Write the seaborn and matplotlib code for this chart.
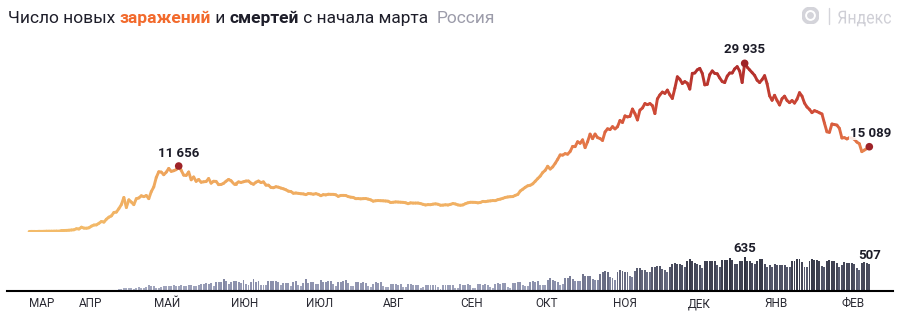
import numpy as np
import pandas as pd
import matplotlib
matplotlib.use("Agg")
import matplotlib.pyplot as plt
import seaborn as sns
from matplotlib.collections import LineCollection
from matplotlib.colors import LinearSegmentedColormap, Normalize
from matplotlib.patches import Circle, PathPatch
from matplotlib.textpath import TextPath
from matplotlib.font_manager import FontProperties
from matplotlib.transforms import Affine2D

# ---------------- data ----------------
start_date = "2020-03-12"

cases_mar = [6, 17, 14, 4, 30, 21, 33, 52, 54, 53, 61, 71, 57, 163, 182, 196, 228, 270, 302, 501]
cases_apr = [440, 771, 601, 582, 658, 954, 1154, 1175, 1459, 1786, 1667, 2186, 2558, 2774, 3388,
             3448, 4070, 4785, 6060, 4268, 5642, 5236, 4774, 5849, 5966, 6361, 6198, 6411, 5841, 7099]
cases_may = [7933, 9623, 10633, 10581, 10102, 10559, 11231, 10699, 10817, 11012, 11656, 10899, 10028,
             9974, 10598, 9200, 9709, 8926, 9263, 8764, 8849, 8894, 9434, 8599, 8946, 8915, 8338,
             8371, 8572, 8952, 9268]
cases_jun = [9035, 8536, 8536, 8831, 8726, 8855, 8984, 8985, 8595, 8404, 8779, 8987, 8706, 8835, 8246,
             8248, 7843, 7790, 7972, 7889, 7728, 7600, 7425, 7176, 7113, 6800, 6852, 6791, 6719, 6693]
cases_jul = [6556, 6760, 6718, 6632, 6736, 6611, 6368, 6562, 6509, 6635, 6611, 6615, 6537, 6248, 6422,
             6428, 6406, 6214, 6109, 6065, 5842, 5862, 5811, 5848, 5871, 5765, 5635, 5395, 5475, 5509, 5482]
cases_aug = [5462, 5427, 5394, 5159, 5204, 5267, 5241, 5212, 5189, 5118, 4945, 5102, 5057, 5061, 5065,
             4969, 4839, 4718, 4790, 4767, 4870, 4921, 4852, 4676, 4696, 4758, 4711, 4829, 4980, 4897, 4729]
cases_sep = [4670, 4729, 4952, 5110, 5205, 5195, 5185, 5099, 5172, 5363, 5310, 5406, 5449, 5509, 5488,
             5670, 5762, 5905, 6065, 6148, 6196, 6215, 6431, 6595, 7212, 7523, 7867, 8135, 8232, 8481]
cases_oct = [8945, 9412, 9859, 10499, 10888, 11615, 11115, 11493, 12126, 12846, 13634, 13592, 13868,
             13754, 14231, 15150, 15099, 15982, 15700, 16319, 14922, 15971, 17340, 16521, 17347, 16710,
             16550, 16202, 17717, 18283, 18140]
cases_nov = [18665, 18257, 18648, 19768, 19404, 20582, 20396, 20498, 21798, 20977, 19851, 21608, 21983,
             22778, 22572, 22778, 22410, 20985, 23610, 24318, 24822, 24581, 25173, 24326, 23675, 25487,
             27543, 27100, 26338, 26683]
cases_dec = [26402, 25345, 28145, 28209, 28782, 29039, 28142, 26097, 26190, 27927, 28585, 28137, 28080,
             27328, 26689, 26509, 27656, 28214, 28209, 28948, 29350, 28552, 26513, 29935, 29258, 28771,
             28284, 27787, 26919, 26513, 27039]
cases_jan = [27747, 26301, 24150, 23351, 24246, 23309, 22515, 23652, 24092, 23309, 22934, 23315, 22850,
             23541, 24715, 24092, 22857, 22160, 21734, 21152, 21513, 21346, 21127, 20921, 19290, 17741,
             17648, 19138, 19032, 18942, 18359]
cases_feb = [16643, 16714, 16474, 16688, 16627, 16419, 15916, 15627, 14207, 14494, 14744, 15089]

deaths_mar = [0, 0, 0, 0, 0, 0, 0, 1, 0, 0, 0, 0, 0, 1, 0, 1, 1, 1, 1, 7]
deaths_apr = [2, 8, 2, 9, 2, 2, 11, 13, 13, 18, 12, 24, 18, 22, 24, 28, 36, 41, 48, 51, 51, 57, 42, 50,
              66, 47, 57, 72, 108, 101]
deaths_may = [96, 57, 58, 76, 95, 86, 88, 98, 104, 88, 94, 107, 96, 93, 113, 119, 94, 91, 115, 135, 127,
              150, 139, 153, 92, 174, 161, 174, 232, 181, 138]
deaths_jun = [162, 182, 178, 169, 144, 197, 134, 112, 171, 216, 174, 181, 113, 119, 119, 194, 193, 182,
              181, 161, 109, 153, 153, 154, 92, 176, 188, 104, 93, 154]
deaths_jul = [216, 147, 176, 168, 135, 134, 198, 173, 174, 180, 188, 130, 95, 175, 175, 186, 198, 150, 85,
              95, 165, 169, 154, 165, 146, 85, 69, 129, 169, 150, 161]
deaths_aug = [95, 70, 77, 129, 129, 123, 119, 129, 70, 70, 130, 129, 115, 119, 118, 60, 70, 119, 114, 115,
              121, 121, 69, 39, 121, 116, 121, 111, 117, 58, 64]
deaths_sep = [123, 119, 117, 129, 119, 65, 53, 122, 123, 119, 129, 111, 70, 58, 128, 150, 131, 146, 144,
              73, 61, 143, 150, 160, 169, 105, 99, 90, 177, 186]
deaths_oct = [169, 186, 117, 105, 117, 202, 239, 202, 191, 174, 115, 123, 244, 244, 286, 232, 179, 186,
              184, 317, 286, 279, 283, 229, 207, 214, 320, 346, 366, 355, 260]
deaths_nov = [245, 214, 352, 389, 378, 364, 349, 286, 256, 368, 432, 439, 387, 395, 351, 346, 442, 456,
              463, 461, 411, 401, 361, 456, 507, 524, 510, 496, 491, 449]
deaths_dec = [569, 589, 554, 530, 510, 485, 432, 562, 559, 562, 562, 553, 481, 457, 572, 578, 585, 613,
              571, 507, 514, 562, 556, 635, 567, 558, 526, 498, 562, 599, 593]
deaths_jan = [509, 456, 482, 454, 506, 478, 484, 480, 485, 456, 448, 566, 570, 594, 590, 533, 448, 443,
              556, 594, 582, 575, 561, 474, 452, 555, 578, 556, 560, 532, 446]
deaths_feb = [492, 539, 530, 528, 529, 499, 432, 396, 517, 536, 519, 507]

month_labels = ["МАР", "АПР", "МАЙ", "ИЮН", "ИЮЛ", "АВГ", "СЕН", "ОКТ", "НОЯ", "ДЕК", "ЯНВ", "ФЕВ"]
month_ticks = ["2020-03-12", "2020-04-01", "2020-05-01", "2020-06-01", "2020-07-01", "2020-08-01",
               "2020-09-01", "2020-10-01", "2020-11-01", "2020-12-01", "2021-01-01", "2021-02-01"]

cases = np.array(cases_mar + cases_apr + cases_may + cases_jun + cases_jul + cases_aug + cases_sep
                 + cases_oct + cases_nov + cases_dec + cases_jan + cases_feb, dtype=float)
deaths = np.array(deaths_mar + deaths_apr + deaths_may + deaths_jun + deaths_jul + deaths_aug + deaths_sep
                  + deaths_oct + deaths_nov + deaths_dec + deaths_jan + deaths_feb, dtype=float)

# ---------------- figure ----------------
sns.set_theme(style="white")
plt.rcParams['font.family'] = ['Roboto', 'DejaVu Sans']

W, H = 901, 312
fig = plt.figure(figsize=(W / 100, H / 100), dpi=100)
fig.patch.set_facecolor("white")

origin = pd.Timestamp("2020-03-01")
dates = pd.date_range(start_date, periods=len(cases))
x = np.asarray((dates - origin).days, dtype=float)
xlim = (2.13, 357.5)

def px_axes(left, top, right, bottom):
    return [left / W, (H - bottom) / H, (right - left) / W, (bottom - top) / H]

ax = fig.add_axes(px_axes(7, 40, 893, 231.5))
axb = fig.add_axes(px_axes(7, 240, 893, 291))

# gradient line for cases
line_cmap = LinearSegmentedColormap.from_list(
    "cases", [(0.0, "#f3bb6a"), (0.35, "#eea55c"), (0.5, "#e67c4a"), (0.7, "#d24e38"), (1.0, "#ae2a2a")])
norm = Normalize(0, 30000)
pts = np.column_stack([x, cases])
segs = np.stack([pts[:-1], pts[1:]], axis=1)
mid = (cases[:-1] + cases[1:]) / 2
lc = LineCollection(segs, colors=line_cmap(norm(mid)), linewidths=2.1, capstyle="round",
                    joinstyle="round", zorder=2)
ax.add_collection(lc)
ax.set_xlim(*xlim)
ax.set_ylim(0, (231.5 - 40) / 0.005618)
ax.axis("off")

# highlighted points
i_peak1 = int(np.argmax(cases[:120]))
i_peak2 = int(np.argmax(cases))
i_last = len(cases) - 1
hl = pd.DataFrame({"x": x[[i_peak1, i_peak2, i_last]], "y": cases[[i_peak1, i_peak2, i_last]]})
sns.scatterplot(data=hl, x="x", y="y", ax=ax, color="#9e2328", s=30, edgecolor="none", zorder=4)
ax.set_xlabel("")
ax.set_ylabel("")

def fmt(v):
    return f"{int(v):,}".replace(",", " ")

lab_kw = dict(textcoords="offset pixels", ha="center", va="bottom", fontsize=9.5,
              fontweight="bold", color="#1c1c28", zorder=5)
ax.annotate(fmt(cases[i_peak1]), (x[i_peak1], cases[i_peak1]), xytext=(0, 6), **lab_kw)
ax.annotate(fmt(cases[i_peak2]), (x[i_peak2], cases[i_peak2]), xytext=(0, 7), **lab_kw)
ax.annotate(fmt(cases[i_last]), (x[i_last], cases[i_last]), xytext=(1, 7),
            bbox=dict(boxstyle="square,pad=0.05", fc="white", ec="none", alpha=0.85), **lab_kw)

# deaths bars
bar_cmap = LinearSegmentedColormap.from_list(
    "deaths", [(0.0, "#b3b7cb"), (0.3, "#8a8fab"), (0.65, "#5d6075"), (1.0, "#303240")])
bnorm = Normalize(0, 635)
axb.bar(x, deaths, width=0.78, color=bar_cmap(bnorm(deaths)), linewidth=0, zorder=2)
axb.set_xlim(*xlim)
axb.set_ylim(0, 51 / 0.0535)
i_dmax = int(np.argmax(deaths))
axb.annotate(fmt(deaths[i_dmax]), (x[i_dmax], deaths[i_dmax]), xytext=(0, 2), **lab_kw)
axb.annotate(fmt(deaths[-1]), (x[-1], deaths[-1]), xytext=(0, 2), **lab_kw)

for s in ["top", "left", "right"]:
    axb.spines[s].set_visible(False)
axb.spines["bottom"].set_color("#000000")
axb.spines["bottom"].set_linewidth(1.5)
axb.set_yticks([])
tick_pos = np.asarray((pd.to_datetime(month_ticks) - origin).days, dtype=float)
axb.set_xticks(tick_pos)
axb.set_xticklabels(month_labels, fontsize=8.5, color="#2a2a33")
for t in axb.get_xticklabels():
    t.set_ha("left")
axb.tick_params(axis="x", length=0, pad=4.5)
axb.set_facecolor("none")
ax.set_facecolor("none")

# ---------------- title ----------------
renderer = fig.canvas.get_renderer()
parts = [("Число новых ", "#1e1e2a", "normal"),
         ("заражений", "#f26a2c", "bold"),
         (" и ", "#1e1e2a", "normal"),
         ("смертей", "#1e1e2a", "bold"),
         (" с начала марта  ", "#1e1e2a", "normal"),
         ("Россия", "#9c9caa", "normal")]
xpos = 8
ybase = (H - 23) / H
for txt, col, wt in parts:
    t = fig.text(xpos / W, ybase, txt, color=col, fontweight=wt, fontsize=12.5,
                 va="baseline", ha="left")
    bb = t.get_window_extent(renderer=renderer)
    xpos += bb.width

# ---------------- logo ----------------
lax = fig.add_axes(px_axes(802, 7, 819, 24))
lax.set_xlim(-1, 1)
lax.set_ylim(-1, 1)
lax.set_aspect("equal")
lax.axis("off")
lax.add_patch(Circle((0, 0), 1.0, color="#d4d4da"))
lax.add_patch(Circle((0, 0), 0.55, color="white"))
lax.add_patch(Circle((0, 0), 0.32, color="#d4d4da"))
fig.add_artist(matplotlib.lines.Line2D([829 / W, 829 / W], [(H - 24) / H, (H - 8) / H],
                                       color="#d4d4da", linewidth=1.0))
tp = TextPath((0, 0), "Яндекс", size=18, prop=FontProperties(family="Roboto"))
ext = tp.get_extents()
sx = 53 / ext.width
sy = 1.0
logo = PathPatch(tp, transform=Affine2D().scale(sx, sy).translate(838 - ext.x0 * sx, H - 23.5),
                 facecolor="#cfcfd6", edgecolor="none")
fig.add_artist(logo)

fig.savefig("out.png", dpi=100, facecolor="white")
